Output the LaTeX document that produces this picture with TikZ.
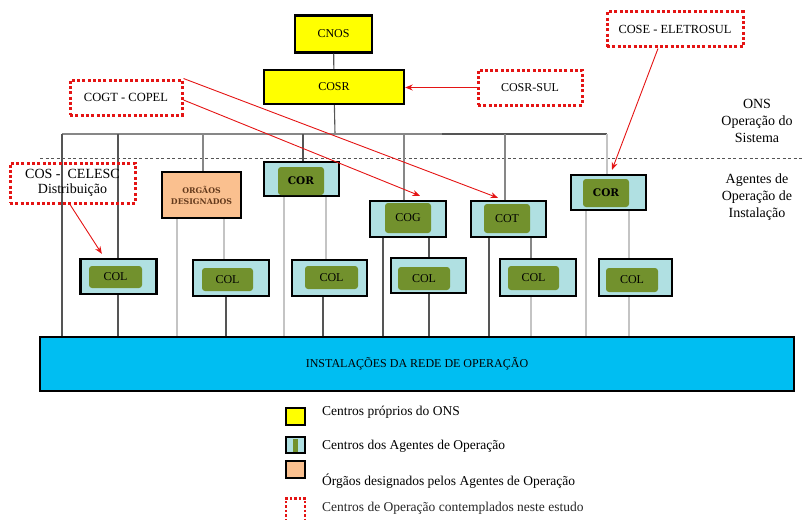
\documentclass[tikz,border=0pt]{standalone}
\usepackage{fontspec}
\setmainfont{Liberation Serif}
\newfontfamily\slabfont{DejaVu Serif}
\usetikzlibrary{arrows.meta,calc}

\definecolor{onsyellow}{RGB}{255,255,0}
\definecolor{agentaqua}{RGB}{176,224,226}
\definecolor{leafgreen}{RGB}{114,145,45}
\definecolor{peach}{RGB}{250,192,143}
\definecolor{netblue}{RGB}{0,190,242}
\definecolor{studyred}{RGB}{228,20,20}
\definecolor{orgbrown}{RGB}{100,58,28}
\definecolor{darkwire}{RGB}{85,85,85}
\definecolor{midwire}{RGB}{135,135,135}
\definecolor{lightwire}{RGB}{196,196,196}

\tikzset{
  txt/.style={font=\fontsize{12}{14}\selectfont},
  onsbox/.style={draw=black, line width=2.4pt, fill=onsyellow, inner sep=0pt, txt},
  agentframe/.style={draw=black, line width=2.3pt, fill=agentaqua, inner sep=0pt},
  core/.style={fill=leafgreen, rounded corners=3pt, inner sep=0pt, txt},
  corefont/.style={font=\slabfont\bfseries\fontsize{10.5}{12}\selectfont},
  orgbox/.style={draw=black, line width=2.2pt, fill=peach, inner sep=0pt, align=center,
    text=orgbrown, font=\slabfont\bfseries\fontsize{7.8}{11}\selectfont},
  studybox/.style={draw=studyred, line width=3pt, dash pattern=on 3pt off 2.3pt,
    inner sep=0pt, align=center},
  studyarrow/.style={draw=studyred, line width=0.9pt, -{Stealth[length=7.5pt,width=6pt]}},
  darkline/.style={draw=darkwire, line width=1.1pt},
  midline/.style={draw=midwire, line width=1.3pt},
  lightline/.style={draw=lightwire, line width=2pt},
  keybox/.style={draw=black, line width=1.3pt, inner sep=0pt, minimum width=19pt},
  keytext/.style={anchor=west, inner sep=0pt, font=\fontsize{13.5}{16}\selectfont},
  sidetext/.style={align=center, inner sep=0pt, font=\fontsize{14}{17}\selectfont}
}

\begin{document}
\begin{tikzpicture}[x=1pt,y=-1pt]
\useasboundingbox (0,0) rectangle (802,519);

% ---- ONS own centres
\node[onsbox, minimum width=77pt, minimum height=37pt] (cnos) at (333.5,34) {CNOS};
\node[onsbox, minimum width=140pt, minimum height=34pt] (cosr) at (334,87) {COSR};

% ---- separation between system and installation levels
\coordinate (dashL) at (40,158);
\coordinate (dashR) at (802,158);
\draw[darkwire, line width=0.9pt, dash pattern=on 3pt off 2.5pt] (dashL) -- (dashR);

% ---- distribution bar
\coordinate (b1) at (62,134);
\coordinate (b2) at (118,134);
\coordinate (b3) at (203,134);
\coordinate (b4) at (303,134);
\coordinate (bc) at (335,134);
\coordinate (b5) at (404,134);
\coordinate (bm) at (442,134);
\coordinate (b6) at (505,134);
\coordinate (b7) at (607,134);

% ---- agent centres
\node[orgbox, minimum width=79pt, minimum height=46pt] (org) at (201.5,195) {ORGÃOS\\DESIGNADOS};

\node[agentframe, minimum width=75pt, minimum height=34pt] (cor1) at (301.5,179) {};
\node[core, minimum width=46pt, minimum height=28pt, corefont] (cor1c) at (301,181) {COR};

\node[agentframe, minimum width=76pt, minimum height=36pt] (cog) at (408,219) {};
\node[core, minimum width=46pt, minimum height=30pt] (cogc) at (408,218) {COG};

\node[agentframe, minimum width=75pt, minimum height=36pt] (cot) at (508.5,219) {};
\node[core, minimum width=46pt, minimum height=29pt] (cotc) at (507,218.5) {COT};

\node[agentframe, minimum width=75pt, minimum height=35pt] (cor2) at (608.5,192.5) {};
\node[core, minimum width=46pt, minimum height=28pt, corefont] (cor2c) at (606,193) {COR};

% ---- local centres
\node[agentframe, minimum width=76pt, minimum height=35pt] (col1) at (118.5,276.5) {};
\node[core, minimum width=53pt, minimum height=22pt] (col1c) at (115.5,277) {COL};
\node[agentframe, minimum width=76pt, minimum height=36pt] (col2) at (231,278) {};
\node[core, minimum width=51pt, minimum height=23pt] (col2c) at (227.5,279.5) {COL};
\node[agentframe, minimum width=75pt, minimum height=36pt] (col3) at (329.5,278) {};
\node[core, minimum width=53pt, minimum height=23pt] (col3c) at (331.5,277.5) {COL};
\node[agentframe, minimum width=75pt, minimum height=35pt] (col4) at (428.5,275.5) {};
\node[core, minimum width=52pt, minimum height=23pt] (col4c) at (424,278.5) {COL};
\node[agentframe, minimum width=76pt, minimum height=37pt] (col5) at (538,277.5) {};
\node[core, minimum width=51pt, minimum height=24pt] (col5c) at (533.5,278) {COL};
\node[agentframe, minimum width=73pt, minimum height=37pt] (col6) at (635.5,277.5) {};
\node[core, minimum width=52pt, minimum height=24pt] (col6c) at (632,280) {COL};

% ---- network installations
\node[draw=black, line width=2.4pt, fill=netblue, minimum width=754pt, minimum height=54pt,
      inner sep=0pt, txt] (inst) at (417,364) {INSTALAÇÕES DA REDE DE OPERAÇÃO};

% ---- x positions of the vertical links below the agent centres
\coordinate (x177) at (177,0);
\coordinate (x224) at (224,0);
\coordinate (x226) at (226,0);
\coordinate (x284) at (284,0);
\coordinate (x326) at (326,0);
\coordinate (x323) at (323,0);
\coordinate (x383) at (383,0);
\coordinate (x429) at (429,0);
\coordinate (x489) at (489,0);
\coordinate (x531) at (531,0);
\coordinate (x586) at (586,0);
\coordinate (x629) at (629,0);

% ---- links: top of hierarchy
\draw[darkline] (cnos) -- (cosr);
\draw[darkline] (cosr) -- (bc);
\draw[midline] (b1) -- (bm);
\draw[darkline, line width=1.5pt] (bm) -- (b7);

% ---- links: bar to centres
\draw[darkline] (b1) -- (b1 |- inst.north);
\draw[darkline] (b2) -- (b2 |- col1.north);
\draw[darkline] (b2 |- col1.south) -- (b2 |- inst.north);
\draw[midline] (b3) -- (b3 |- org.north);
\draw[darkline] (b4) -- (b4 |- cor1.north);
\draw[midline] (b5) -- (b5 |- cog.north);
\draw[midline] (b6) -- (b6 |- cot.north);
\draw[lightline] (b7) -- (b7 |- cor2.north);

% ---- links: agent centres to local centres and installations
\draw[lightline] (x177 |- org.south) -- (x177 |- inst.north);
\draw[lightline] (x224 |- org.south) -- (x224 |- col2.north);
\draw[darkline] (x226 |- col2.south) -- (x226 |- inst.north);

\draw[lightline] (x284 |- cor1.south) -- (x284 |- inst.north);
\draw[lightline] (x326 |- cor1.south) -- (x326 |- col3.north);
\draw[darkline] (x323 |- col3.south) -- (x323 |- inst.north);

\draw[darkline] (x383 |- cog.south) -- (x383 |- inst.north);
\draw[darkline] (x429 |- cog.south) -- (x429 |- col4.north);
\draw[darkline] (x429 |- col4.south) -- (x429 |- inst.north);

\draw[darkline] (x489 |- cot.south) -- (x489 |- inst.north);
\draw[midline] (x531 |- cot.south) -- (x531 |- col5.north);
\draw[lightline] (x531 |- col5.south) -- (x531 |- inst.north);

\draw[lightline] (x586 |- cor2.south) -- (x586 |- inst.north);
\draw[lightline] (x629 |- cor2.south) -- (x629 |- col6.north);
\draw[lightline] (x629 |- col6.south) -- (x629 |- inst.north);

% ---- operation centres covered by the study
\node[studybox, minimum width=112pt, minimum height=35pt, txt,
      font=\fontsize{12.5}{14}\selectfont] (cogt) at (126,97.5) {COGT - COPEL};
\node[studybox, minimum width=125pt, minimum height=40pt,
      font=\fontsize{14}{15}\selectfont] (celesc) at (72.5,183) {COS -\ \ CELESC\\Distribuição};
\node[studybox, minimum width=104pt, minimum height=35pt, txt] (cosrsul) at (530,87.5) {COSR-SUL};
\node[studybox, minimum width=136pt, minimum height=35pt, txt,
      font=\fontsize{12.4}{14}\selectfont] (cose) at (675,29.5) {COSE - ELETROSUL};

\draw[studyarrow] (cosrsul.west) -- (cosrsul.west -| cosr.east);
\draw[studyarrow] ($(cose.south)+(-17,0)$) -- ($(cor2.north)+(3.5,-4)$);
\draw[studyarrow] (cogt.north east) -- ($(cot.north)+(-10.5,-2)$);
\draw[studyarrow] ($(cogt.east)+(0,2.5)$) -- ($(cog.north)+(12,-4)$);
\draw[studyarrow] ($(celesc.south)+(-2.5,0)$) -- ($(col1.north west)+(22.5,-4)$);

% ---- level captions
\node[sidetext] (onscap) at (757,121) {ONS\\Operação do\\Sistema};
\node[sidetext] (agcap) at (757,197) {Agentes de\\Operação de\\Instalação};

% ---- key
\node[keybox, fill=onsyellow, minimum height=17pt] (k1) at (295.5,416.5) {};
\node[keybox, fill=agentaqua, minimum height=16pt] (k2) at (295.5,445) {};
\node[fill=leafgreen, minimum width=5pt, minimum height=13pt, inner sep=0pt] (k2c) at (295.5,445.5) {};
\node[keybox, fill=peach, minimum height=17pt] (k3) at (295.5,469.5) {};
\coordinate (k4a) at (286,521);
\coordinate (k4b) at (286,498.5);
\coordinate (k4c) at (305,498.5);
\coordinate (k4d) at (305,521);
\draw[studyred, line width=2.4pt, dash pattern=on 2.4pt off 2pt] (k4a) -- (k4b) -- (k4c) -- (k4d);

\node[keytext] (t1) at (322,412) {Centros próprios do ONS};
\node[keytext] (t2) at (322,446) {Centros dos Agentes de Operação};
\node[keytext] (t3) at (322,481) {Órgãos designados pelos Agentes de Operação};
\node[keytext, text=black!85] (t4) at (322,508) {Centros de Operação contemplados neste estudo};
\end{tikzpicture}
\end{document}
